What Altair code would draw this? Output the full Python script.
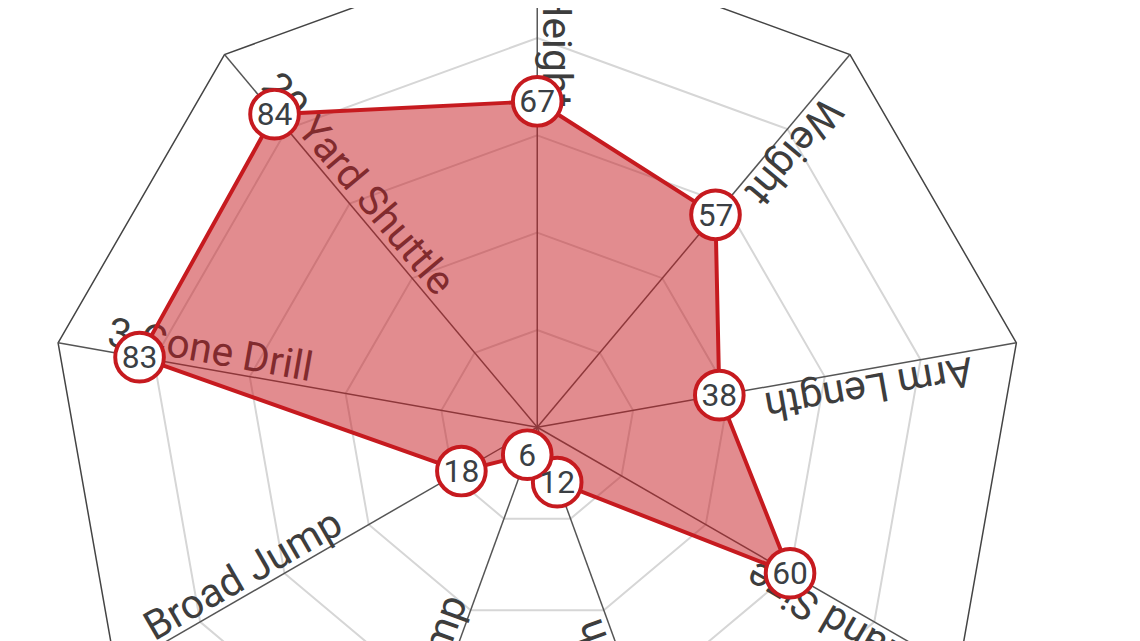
import altair as alt
import pandas as pd

# ---- data ----
categories = ["Height", "Weight", "Arm Length", "Hand Size", "40 Yard Dash",
              "Vertical Jump", "Broad Jump", "3 Cone Drill", "20 Yard Shuttle"]
values = [67, 57, 38, 60, 12, 6, 18, 83, 84]
ring_levels = [20, 40, 60, 80]
outer_level = [100]
label_radius = 90.2

RED = "#c61a1f"
n = len(categories)
step = 360 / n

pts = pd.DataFrame({"category": categories, "value": values,
                    "idx": list(range(n))})
rings = pd.DataFrame([{"level": lv, "idx": i} for lv in ring_levels for i in range(n)])
outer = pd.DataFrame([{"level": lv, "idx": i} for lv in outer_level for i in range(n)])
spokes = pd.DataFrame({"category": categories, "idx": list(range(n)), "level": 100})

W, H = 1132, 633
U = 4.9                      # px per value unit
CX, CY = 533, 420            # centre inside plot area
xdom = [-CX / U, (W - CX) / U]
ydom = [-(H - CY) / U, CY / U]

X = alt.X("x:Q", scale=alt.Scale(domain=xdom, nice=False, zero=False), axis=None)
Y = alt.Y("y:Q", scale=alt.Scale(domain=ydom, nice=False, zero=False), axis=None)


def polar(chart, rfield):
    return chart.transform_calculate(
        b=f"datum.idx * {step} * PI / 180"
    ).transform_calculate(
        x=f"datum.{rfield} * sin(datum.b)",
        y=f"datum.{rfield} * cos(datum.b)",
    )


ring_layer = polar(alt.Chart(rings), "level").mark_line(
    interpolate="linear-closed", color="#d6d6d6", strokeWidth=2
).encode(x=X, y=Y, detail="level:N", order="idx:Q")

outer_layer = polar(alt.Chart(outer), "level").mark_line(
    interpolate="linear-closed", color="#444444", strokeWidth=1.5
).encode(x=X, y=Y, detail="level:N", order="idx:Q")

spoke_layer = polar(alt.Chart(spokes), "level").transform_calculate(
    x0="0", y0="0"
).mark_rule(color="#555555", strokeWidth=1.5).encode(
    x=X, y=Y, x2="x0:Q", y2="y0:Q"
)

label_layer = alt.Chart(spokes).transform_calculate(
    r=str(label_radius),
    ang=f"(datum.idx * {step} + 90) % 360",
    b=f"datum.idx * {step} * PI / 180",
).transform_calculate(
    x="datum.r * sin(datum.b)", y="datum.r * cos(datum.b)"
).mark_text(
    align="left", baseline="alphabetic", dy=-6, fontSize=41,
    font="Roboto", color="#3d3d3d"
).encode(x=X, y=Y, text="category:N", angle=alt.Angle("ang:Q", scale=None))

poly_layer = polar(alt.Chart(pts), "value").mark_line(
    interpolate="linear-closed", fill=RED, fillOpacity=0.5, stroke=RED,
    strokeWidth=4, strokeJoin="miter"
).encode(x=X, y=Y, order="idx:Q")

point_layer = polar(alt.Chart(pts), "value").mark_point(
    shape="circle", filled=True, fill="white", stroke=RED, strokeWidth=4,
    size=2400, opacity=1
).encode(x=X, y=Y)

num_layer = polar(alt.Chart(pts), "value").mark_text(
    fontSize=32, font="Roboto", color="#3b3f44", align="center", baseline="middle", dy=1
).encode(x=X, y=Y, text="value:Q")

chart = alt.layer(
    ring_layer, outer_layer, spoke_layer, label_layer, poly_layer, point_layer, num_layer
).properties(
    width=W, height=H, autosize=alt.AutoSizeParams(type="none"), padding=0,
    background="white"
).configure_view(stroke=None)

chart.save("out.html", embed_options={"renderer": "svg", "actions": False})
